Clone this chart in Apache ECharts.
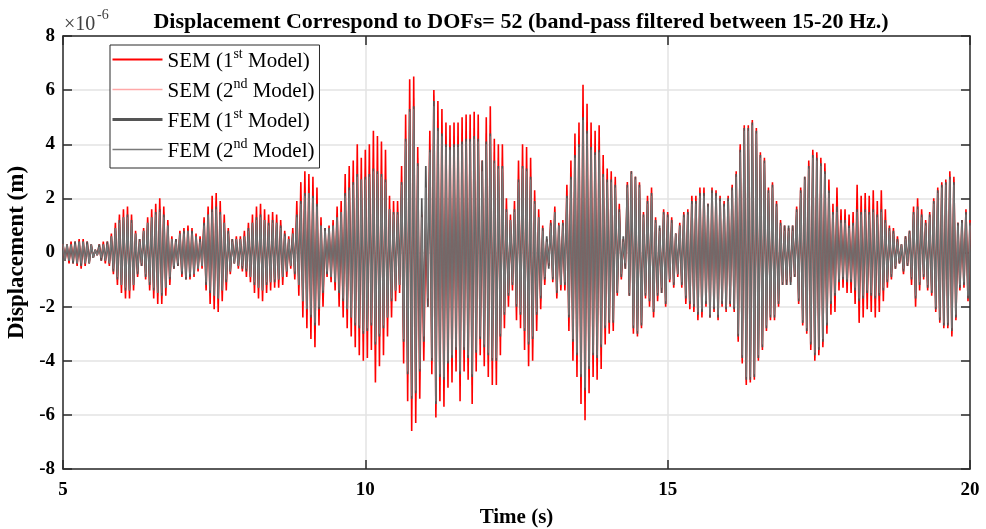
<!DOCTYPE html>
<html>
<head>
<meta charset="utf-8">
<script src="https://cdn.jsdelivr.net/npm/echarts@6/dist/echarts.min.js"></script>
<style>
  html, body { margin: 0; padding: 0; background: #fff; }
  #chart { width: 986px; height: 529px; }
</style>
</head>
<body>
<div id="chart"></div>
<script>
// Displacement of DOF 52 after a 15-20 Hz band-pass filter, in units of 1e-6 m.
// Each series lists successive crests and troughs, one every 1/30 s starting at t = 5 s.
const T_START = 5;
const T_STEP = 1 / 30;

const seriesNames = ['SEM (1st Model)', 'SEM (2nd Model)', 'FEM (1st Model)', 'FEM (2nd Model)'];

const semModel1 = [
  0.3,-0.3,0.3,-0.4,0.4,-0.4,0.4,-0.5,0.5,-0.6,0.5,-0.5,0.4,-0.4,0.3,-0.2,0.1,-0.1,0.3,-0.3,0.4,-0.4,0.4,-0.5,0.7,-0.8,1.1,-1.2,1.4,-1.5,
  1.6,-1.7,1.7,-1.7,1.4,-1.4,0.8,-0.9,0.5,-0.5,0.9,-1.0,1.3,-1.4,1.6,-1.7,1.8,-1.9,2.0,-1.9,1.7,-1.6,1.2,-1.2,0.6,-0.6,0.5,-0.5,0.8,-0.9,
  0.9,-1.0,1.0,-1.0,0.9,-0.9,0.7,-0.7,0.6,-0.6,1.3,-1.4,1.7,-1.9,2.1,-2.1,2.2,-2.2,1.9,-1.8,1.4,-1.4,0.9,-0.8,0.5,-0.4,0.6,-0.6,0.6,-0.7,
  0.8,-0.9,1.1,-1.1,1.4,-1.5,1.7,-1.7,1.8,-1.8,1.6,-1.5,1.4,-1.4,1.5,-1.3,1.4,-1.3,1.2,-1.2,0.8,-0.9,0.6,-0.6,0.9,-1.0,1.9,-1.6,2.6,-2.4,
  3.0,-2.8,2.9,-3.2,2.8,-3.5,2.4,-2.7,1.3,-2.0,0.9,-0.9,1.0,-1.1,1.2,-1.4,1.7,-2.0,1.9,-2.4,2.9,-2.8,3.2,-3.1,3.4,-3.5,4.0,-3.8,3.5,-4.0,
  3.8,-3.9,4.0,-3.6,4.5,-4.8,4.3,-4.2,4.1,-3.8,3.8,-3.1,2.1,-2.4,1.9,-1.8,1.9,-1.5,3.2,-4.1,5.1,-5.5,6.4,-6.6,6.5,-6.3,3.9,-5.4,1.4,-4.0,
  1.1,-2.0,4.5,-4.5,6.0,-6.1,5.6,-5.5,5.3,-5.7,4.8,-5.0,4.7,-4.8,4.8,-4.4,4.8,-5.5,5.0,-4.4,5.1,-4.7,5.1,-5.6,5.2,-4.4,5.1,-3.8,3.4,-4.2,
  5.0,-4.6,5.4,-4.9,4.2,-4.9,4.0,-3.8,4.0,-2.8,2.0,-2.0,1.4,-1.4,1.9,-2.5,3.4,-2.8,4.0,-3.6,3.9,-4.2,3.5,-4.0,2.3,-2.9,1.6,-2.1,1.0,-1.2,
  0.5,-0.5,1.2,-1.1,1.7,-1.7,1.1,-1.4,1.2,-1.4,2.5,-2.9,3.4,-4.0,4.4,-4.6,4.8,-5.6,6.2,-6.2,5.5,-5.2,4.8,-4.6,4.5,-4.7,4.7,-4.3,3.6,-3.4,
  3.1,-3.0,3.0,-2.9,2.8,-1.6,1.8,-1.0,0.5,-0.6,2.6,-1.6,3.0,-3.0,2.8,-3.1,2.6,-2.8,1.5,-1.7,2.1,-2.0,2.4,-2.4,1.3,-1.8,0.9,-1.5,1.6,-2.0,
  1.5,-1.1,1.3,-1.3,0.7,-0.9,1.1,-1.3,1.5,-1.9,1.6,-2.1,2.1,-2.2,2.1,-2.5,2.4,-2.4,2.4,-2.0,1.8,-2.4,2.4,-2.2,2.3,-2.5,2.1,-2.0,1.9,-2.2,
  2.1,-2.0,2.5,-2.2,3.0,-3.3,4.0,-4.1,4.7,-4.9,4.7,-4.8,4.9,-4.7,4.6,-4.0,3.7,-3.6,3.5,-2.9,2.4,-2.5,2.6,-2.5,1.9,-2.0,1.2,-1.2,1.0,-1.2,
  0.9,-1.1,1.0,-0.9,1.7,-1.9,2.4,-2.7,2.8,-3.0,3.4,-3.6,3.8,-4.0,3.7,-3.8,3.5,-3.5,3.3,-3.0,2.7,-2.3,1.8,-2.2,2.4,-1.4,1.6,-1.3,1.6,-1.5,
  1.4,-1.5,1.5,-1.9,2.5,-2.6,2.1,-2.4,2.2,-2.1,2.1,-2.2,2.3,-2.4,1.9,-2.2,2.3,-1.8,1.6,-1.3,1.0,-1.0,0.9,-0.6,0.6,-0.4,0.3,-0.8,0.6,-0.5,
  0.8,-1.2,1.7,-2.0,2.0,-1.4,1.6,-1.0,1.2,-1.4,1.5,-1.6,2.0,-2.2,2.4,-2.6,2.6,-2.8,2.7,-2.8,3.0,-3.1,2.8,-2.5,1.1,-1.4,1.2,-1.3,1.6,-1.8,
  1.2
];

const semModel2 = [
  0.3,-0.3,0.3,-0.4,0.4,-0.4,0.4,-0.4,0.4,-0.5,0.4,-0.5,0.4,-0.4,0.3,-0.2,0.1,-0.1,0.3,-0.3,0.3,-0.4,0.4,-0.4,0.6,-0.7,1.0,-1.1,1.3,-1.3,
  1.4,-1.5,1.5,-1.5,1.3,-1.3,0.7,-0.8,0.5,-0.5,0.8,-0.9,1.2,-1.3,1.4,-1.5,1.6,-1.6,1.7,-1.7,1.5,-1.4,1.1,-1.1,0.5,-0.6,0.5,-0.5,0.7,-0.8,
  0.8,-0.9,0.9,-0.9,0.8,-0.8,0.6,-0.6,0.5,-0.5,1.2,-1.3,1.5,-1.6,1.7,-1.8,1.9,-1.9,1.6,-1.5,1.2,-1.2,0.8,-0.7,0.5,-0.4,0.5,-0.5,0.5,-0.6,
  0.7,-0.8,1.0,-1.0,1.2,-1.3,1.4,-1.4,1.5,-1.5,1.3,-1.3,1.2,-1.2,1.3,-1.1,1.2,-1.1,1.0,-1.0,0.7,-0.8,0.5,-0.5,0.8,-0.9,1.5,-1.3,2.1,-2.0,
  2.4,-2.3,2.4,-2.6,2.3,-2.9,2.0,-2.3,1.1,-1.6,0.9,-0.8,0.9,-1.0,1.1,-1.2,1.4,-1.7,1.6,-2.0,2.4,-2.3,2.6,-2.6,2.8,-2.9,3.2,-3.1,2.9,-3.3,
  3.1,-3.2,3.2,-3.0,3.5,-3.8,3.4,-3.4,3.2,-3.1,3.0,-2.6,1.7,-2.0,1.6,-1.5,1.6,-1.3,2.8,-3.5,4.5,-4.8,5.6,-5.8,5.7,-5.5,3.5,-4.7,1.5,-3.5,
  2.6,-1.8,4.0,-4.1,5.8,-5.8,4.9,-4.9,4.7,-5.0,4.3,-4.4,4.2,-4.2,4.3,-3.9,4.3,-4.8,4.4,-3.9,4.5,-4.2,4.5,-4.9,4.6,-3.9,4.5,-3.4,3.2,-3.7,
  4.4,-4.1,4.7,-4.3,3.7,-4.3,3.5,-3.3,3.5,-2.5,1.8,-1.8,1.3,-1.3,1.7,-2.2,2.9,-2.5,3.5,-3.1,3.4,-3.7,3.1,-3.5,2.1,-2.5,1.4,-1.8,0.9,-1.1,
  0.5,-0.5,1.1,-1.0,1.6,-1.6,1.0,-1.3,1.1,-1.3,2.3,-2.6,3.0,-3.6,3.9,-4.1,4.3,-5.0,5.4,-5.5,4.8,-4.6,4.2,-4.1,4.0,-4.2,4.1,-3.8,3.2,-3.0,
  2.9,-2.8,2.8,-2.7,2.6,-1.5,1.7,-0.9,0.5,-0.5,2.5,-1.6,3.0,-2.9,2.8,-3.0,2.5,-2.7,1.4,-1.6,2.0,-1.9,2.3,-2.3,1.2,-1.7,0.9,-1.4,1.5,-1.9,
  1.4,-1.0,1.2,-1.2,0.7,-0.8,1.0,-1.2,1.4,-1.8,1.5,-2.0,2.0,-2.1,2.0,-2.4,2.3,-2.3,2.3,-1.9,1.8,-2.4,2.3,-2.1,2.2,-2.4,2.0,-1.9,1.8,-2.1,
  2.0,-1.9,2.4,-2.1,2.9,-3.2,3.9,-4.0,4.6,-4.8,4.6,-4.7,4.8,-4.6,4.5,-3.9,3.6,-3.5,3.4,-2.8,2.3,-2.4,2.5,-2.4,1.8,-1.9,1.1,-1.1,0.9,-1.1,
  0.9,-1.0,0.9,-0.8,1.6,-1.8,2.3,-2.6,2.7,-2.9,3.3,-3.5,3.7,-3.9,3.6,-3.7,3.4,-3.4,3.1,-2.8,2.4,-2.0,1.6,-1.8,1.9,-1.2,1.3,-1.1,1.3,-1.2,
  1.1,-1.2,1.2,-1.5,1.8,-2.0,1.7,-1.9,1.8,-1.7,1.7,-1.8,1.8,-1.9,1.5,-1.8,1.8,-1.5,1.3,-1.1,0.9,-0.9,0.8,-0.6,0.5,-0.4,0.3,-0.7,0.6,-0.5,
  0.8,-1.1,1.6,-1.8,1.8,-1.3,1.5,-0.9,1.1,-1.3,1.4,-1.5,1.9,-2.1,2.3,-2.5,2.5,-2.7,2.6,-2.7,2.9,-3.0,2.7,-2.4,1.1,-1.3,1.2,-1.2,1.5,-1.7,
  1.1
];

const femModel1 = [
  0.3,-0.3,0.3,-0.3,0.3,-0.4,0.4,-0.4,0.4,-0.5,0.4,-0.4,0.4,-0.4,0.3,-0.2,0.1,-0.1,0.3,-0.3,0.3,-0.3,0.4,-0.4,0.6,-0.7,0.9,-1.0,1.2,-1.2,
  1.3,-1.4,1.4,-1.4,1.2,-1.2,0.7,-0.8,0.5,-0.5,0.8,-0.9,1.1,-1.2,1.3,-1.4,1.5,-1.5,1.6,-1.6,1.4,-1.3,1.0,-1.0,0.5,-0.6,0.5,-0.5,0.7,-0.8,
  0.8,-1.0,0.8,-0.9,0.8,-0.8,0.6,-0.6,0.5,-0.5,1.1,-1.2,1.4,-1.5,1.6,-1.6,1.7,-1.7,1.5,-1.4,1.1,-1.1,0.8,-0.7,0.5,-0.4,0.5,-0.5,0.5,-0.6,
  0.6,-0.7,0.9,-0.9,1.1,-1.2,1.3,-1.3,1.4,-1.4,1.2,-1.2,1.1,-1.1,1.2,-1.1,1.1,-1.0,1.0,-0.9,0.7,-0.7,0.5,-0.5,0.7,-0.8,1.4,-1.2,1.9,-1.8,
  2.2,-2.1,2.2,-2.4,2.1,-2.7,1.8,-2.1,1.0,-1.5,0.9,-0.8,0.9,-0.9,1.0,-1.1,1.3,-1.5,1.5,-1.8,2.2,-2.1,2.4,-2.4,2.6,-2.7,2.9,-2.8,2.7,-3.0,
  2.8,-2.9,2.9,-2.7,3.1,-3.4,3.0,-3.1,2.9,-2.8,2.7,-2.4,1.6,-1.8,1.5,-1.4,1.5,-1.2,2.6,-3.3,4.2,-4.5,5.3,-5.4,5.4,-5.2,3.3,-4.4,2.0,-3.3,
  3.2,-2.0,3.8,-4.0,5.6,-5.6,4.6,-4.6,4.4,-4.7,4.0,-4.1,3.9,-3.9,4.0,-3.6,4.0,-4.5,4.1,-3.6,4.2,-3.9,4.2,-4.6,4.3,-3.7,4.2,-3.2,3.4,-3.5,
  4.1,-3.8,4.4,-4.0,3.4,-4.0,3.2,-3.1,3.2,-2.3,1.6,-1.6,1.2,-1.2,1.6,-2.0,2.7,-2.3,3.2,-2.9,3.1,-3.4,2.8,-3.2,1.9,-2.3,1.3,-1.7,0.9,-1.0,
  0.6,-0.6,1.1,-1.0,1.5,-1.5,1.0,-1.2,1.1,-1.2,2.1,-2.4,2.8,-3.3,3.6,-3.8,4.0,-4.6,5.0,-5.1,4.5,-4.3,3.9,-3.8,3.7,-3.9,3.8,-3.5,2.9,-2.8,
  2.7,-2.6,2.7,-2.6,2.5,-1.5,1.6,-0.9,0.6,-0.6,2.5,-1.6,3.0,-2.8,2.8,-3.0,2.5,-2.7,1.4,-1.6,1.9,-1.8,2.2,-2.2,1.2,-1.6,1.0,-1.5,1.5,-1.9,
  1.4,-1.0,1.2,-1.2,0.7,-0.8,1.0,-1.2,1.4,-1.7,1.5,-1.9,1.9,-2.0,1.9,-2.3,2.2,-2.2,2.2,-1.9,1.8,-2.4,2.3,-2.1,2.2,-2.4,2.0,-1.9,1.8,-2.1,
  2.0,-1.9,2.4,-2.1,2.9,-3.1,3.8,-3.9,4.6,-4.7,4.6,-4.7,4.8,-4.6,4.5,-3.9,3.6,-3.5,3.4,-2.8,2.3,-2.4,2.5,-2.4,1.8,-1.9,1.1,-1.2,1.0,-1.2,
  1.0,-1.2,1.0,-0.9,1.6,-1.8,2.3,-2.6,2.8,-2.9,3.2,-3.4,3.6,-3.8,3.5,-3.6,3.3,-3.3,3.0,-2.7,2.3,-1.9,1.5,-1.6,1.7,-1.1,1.2,-1.0,1.2,-1.1,
  1.0,-1.1,1.1,-1.4,1.6,-1.8,1.5,-1.7,1.6,-1.5,1.5,-1.6,1.6,-1.7,1.4,-1.6,1.6,-1.4,1.2,-1.1,0.9,-0.9,0.8,-0.6,0.5,-0.4,0.3,-0.7,0.6,-0.5,
  0.8,-1.0,1.5,-1.7,1.7,-1.2,1.4,-0.9,1.1,-1.3,1.4,-1.5,1.9,-2.1,2.3,-2.5,2.5,-2.7,2.6,-2.7,2.8,-2.9,2.6,-2.4,1.1,-1.3,1.2,-1.2,1.5,-1.7,
  1.1
];

const femModel2 = [
  0.3,-0.3,0.3,-0.3,0.3,-0.3,0.3,-0.4,0.4,-0.4,0.4,-0.4,0.3,-0.4,0.3,-0.2,0.1,-0.1,0.2,-0.2,0.3,-0.3,0.3,-0.4,0.6,-0.6,0.9,-0.9,1.1,-1.2,
  1.3,-1.3,1.3,-1.4,1.1,-1.2,0.7,-0.7,0.4,-0.4,0.8,-0.8,1.1,-1.1,1.3,-1.3,1.4,-1.5,1.5,-1.5,1.3,-1.3,1.0,-0.9,0.5,-0.5,0.4,-0.4,0.7,-0.7,
  0.7,-0.9,0.8,-0.8,0.7,-0.8,0.6,-0.6,0.4,-0.5,1.0,-1.1,1.4,-1.4,1.5,-1.6,1.6,-1.7,1.4,-1.4,1.1,-1.0,0.7,-0.7,0.4,-0.4,0.5,-0.5,0.5,-0.5,
  0.6,-0.6,0.8,-0.9,1.1,-1.1,1.2,-1.3,1.3,-1.4,1.2,-1.1,1.0,-1.1,1.1,-1.0,1.1,-1.0,0.9,-0.9,0.6,-0.7,0.5,-0.5,0.7,-0.7,1.3,-1.2,1.8,-1.8,
  2.1,-2.1,2.2,-2.3,2.0,-2.6,1.7,-2.0,1.0,-1.4,0.8,-0.7,0.9,-0.9,1.0,-1.1,1.3,-1.4,1.5,-1.7,2.1,-2.1,2.3,-2.4,2.5,-2.6,2.8,-2.7,2.7,-2.9,
  2.7,-2.8,2.8,-2.6,3.0,-3.3,2.9,-3.0,2.8,-2.7,2.6,-2.4,1.6,-1.7,1.4,-1.4,1.4,-1.2,2.5,-3.2,4.1,-4.4,5.2,-5.3,5.3,-5.1,3.2,-4.3,1.3,-3.1,
  2.4,-1.7,3.7,-3.9,5.4,-5.5,4.5,-4.5,4.3,-4.6,3.9,-4.0,3.8,-3.8,3.9,-3.5,3.9,-4.4,4.0,-3.5,4.1,-3.8,4.1,-4.5,4.2,-3.6,4.1,-3.1,3.0,-3.4,
  4.0,-3.7,4.3,-3.9,3.3,-3.9,3.1,-3.0,3.1,-2.2,1.5,-1.5,1.2,-1.1,1.5,-1.9,2.6,-2.2,3.1,-2.8,3.0,-3.3,2.7,-3.1,1.8,-2.2,1.3,-1.6,0.8,-0.9,
  0.4,-0.4,1.0,-0.9,1.5,-1.4,1.0,-1.2,1.0,-1.1,2.0,-2.3,2.7,-3.2,3.5,-3.7,3.9,-4.5,4.9,-5.0,4.4,-4.2,3.8,-3.7,3.6,-3.8,3.7,-3.4,2.8,-2.7,
  2.6,-2.5,2.6,-2.5,2.4,-1.4,1.5,-0.8,0.4,-0.4,2.4,-1.5,2.9,-2.7,2.7,-2.9,2.4,-2.6,1.3,-1.5,1.8,-1.7,2.1,-2.1,1.1,-1.5,0.8,-1.3,1.4,-1.8,
  1.3,-1.0,1.1,-1.1,0.7,-0.8,1.0,-1.1,1.3,-1.6,1.4,-1.8,1.8,-1.9,1.8,-2.2,2.1,-2.1,2.1,-1.8,1.7,-2.3,2.2,-2.0,2.1,-2.3,1.9,-1.8,1.7,-2.0,
  1.9,-1.8,2.3,-2.0,2.8,-3.0,3.7,-3.8,4.5,-4.6,4.5,-4.6,4.7,-4.5,4.4,-3.8,3.5,-3.4,3.3,-2.7,2.2,-2.3,2.4,-2.3,1.7,-1.8,1.0,-1.1,0.8,-1.0,
  0.8,-0.9,0.8,-0.8,1.5,-1.7,2.2,-2.5,2.7,-2.8,3.1,-3.3,3.5,-3.7,3.4,-3.5,3.2,-3.2,2.9,-2.6,2.2,-1.8,1.4,-1.5,1.5,-1.0,1.1,-0.9,1.1,-1.0,
  0.9,-1.0,1.0,-1.3,1.5,-1.7,1.4,-1.6,1.5,-1.4,1.4,-1.5,1.5,-1.6,1.3,-1.5,1.5,-1.3,1.1,-1.0,0.8,-0.8,0.7,-0.5,0.4,-0.3,0.3,-0.6,0.5,-0.4,
  0.7,-0.9,1.4,-1.6,1.6,-1.1,1.3,-0.8,1.0,-1.2,1.3,-1.4,1.8,-2.0,2.2,-2.4,2.4,-2.6,2.5,-2.6,2.7,-2.8,2.5,-2.3,1.0,-1.2,1.1,-1.1,1.4,-1.6,
  1.0
];

// Axis ranges and tick spacing
const xRange = { min: 5, max: 20, interval: 5 };
const yRange = { min: -8, max: 8, interval: 2 };

const FONT = '"Liberation Serif", "Times New Roman", serif';
const AXIS_COLOR = '#2b2b2b';
const GRID_COLOR = '#e3e3e3';

// Stacking: the light SEM curve sits underneath, FEM curves on top.
const seriesStyles = [
  { color: '#ff0000', width: 1.6, legendWidth: 2, z: 3 },
  { color: '#ffa8a8', width: 1, legendWidth: 1.5, z: 2 },
  { color: '#555555', width: 1.7, legendWidth: 3, z: 4 },
  { color: '#7a7a7a', width: 1.2, legendWidth: 1.5, z: 5 }
];
const seriesValues = [semModel1, semModel2, femModel1, femModel2];

const toPoints = values => values.map((v, i) => [T_START + i * T_STEP, v]);

const chart = echarts.init(document.getElementById('chart'), null, { renderer: 'canvas' });

const axisBase = {
  type: 'value',
  axisLine: { show: true, onZero: false, lineStyle: { color: AXIS_COLOR, width: 1.5 } },
  axisTick: { show: true, inside: true, length: 9, lineStyle: { color: AXIS_COLOR, width: 1.5 } }
};

const tickLabel = { fontFamily: FONT, fontWeight: 'bold', fontSize: 19, color: '#000' };

chart.setOption({
  animation: false,
  backgroundColor: '#ffffff',
  title: {
    text: 'Displacement Correspond to DOFs= 52 (band-pass filtered between 15-20 Hz.)',
    left: 516,
    top: 6,
    textAlign: 'center',
    textStyle: { fontFamily: FONT, fontWeight: 'bold', fontSize: 22, color: '#000' }
  },
  grid: { left: 63, right: 16, top: 36, bottom: 60, containLabel: false, outerBoundsMode: 'none' },
  graphic: [
    {
      type: 'text', x: 64, y: 25,
      style: { text: '×10', fontFamily: FONT, fontSize: 20, fill: '#404040', verticalAlign: 'middle' }
    },
    {
      type: 'text', x: 97, y: 15,
      style: { text: '-6', fontFamily: FONT, fontSize: 14, fill: '#404040', verticalAlign: 'middle' }
    }
  ],
  legend: {
    orient: 'vertical',
    left: 110,
    top: 45,
    padding: [2.5, 5, 2.5, 1],
    itemWidth: 50,
    itemHeight: 14,
    itemGap: 2,
    backgroundColor: '#ffffff',
    borderColor: AXIS_COLOR,
    borderWidth: 1,
    selectedMode: false,
    data: seriesNames.map((name, i) => ({
      name,
      lineStyle: { color: seriesStyles[i].color, width: seriesStyles[i].legendWidth },
      itemStyle: { color: 'rgba(0,0,0,0)', borderWidth: 0, opacity: 0 }
    })),
    formatter: name => {
      const m = name.match(/^(.*\d)(st|nd)(.*)$/);
      return '{n|' + m[1] + '}{s|' + m[2] + '}{n|' + m[3] + '}';
    },
    textStyle: {
      fontFamily: FONT, fontSize: 21, color: '#000',
      rich: {
        n: { fontFamily: FONT, fontSize: 21, color: '#000', lineHeight: 24, verticalAlign: 'bottom' },
        s: { fontFamily: FONT, fontSize: 14, color: '#000', lineHeight: 15, verticalAlign: 'top', padding: [0, 0, 14, 0] }
      }
    }
  },
  xAxis: [
    Object.assign({}, axisBase, xRange, {
      position: 'bottom',
      name: 'Time (s)',
      nameLocation: 'middle',
      nameGap: 38,
      nameTextStyle: { fontFamily: FONT, fontWeight: 'bold', fontSize: 21, color: '#000' },
      axisLabel: Object.assign({ margin: 12 }, tickLabel),
      splitLine: { show: true, lineStyle: { color: GRID_COLOR, width: 1.5 } }
    }),
    Object.assign({}, axisBase, xRange, {
      position: 'top',
      axisLabel: { show: false },
      splitLine: { show: false }
    })
  ],
  yAxis: [
    Object.assign({}, axisBase, yRange, {
      position: 'left',
      name: 'Displacement (m)',
      nameLocation: 'middle',
      nameGap: 32,
      nameRotate: 90,
      nameTextStyle: { fontFamily: FONT, fontWeight: 'bold', fontSize: 23, color: '#000' },
      axisLabel: Object.assign({ margin: 8 }, tickLabel),
      splitLine: { show: true, lineStyle: { color: GRID_COLOR, width: 1.5 } }
    }),
    Object.assign({}, axisBase, yRange, {
      position: 'right',
      axisLabel: { show: false },
      splitLine: { show: false }
    })
  ],
  series: seriesNames.map((name, i) => ({
    name,
    type: 'line',
    xAxisIndex: 0,
    yAxisIndex: 0,
    z: seriesStyles[i].z,
    data: toPoints(seriesValues[i]),
    symbol: 'none',
    showSymbol: false,
    clip: true,
    silent: true,
    lineStyle: { color: seriesStyles[i].color, width: seriesStyles[i].width },
    itemStyle: { color: seriesStyles[i].color },
    emphasis: { disabled: true }
  }))
});
</script>
</body>
</html>
